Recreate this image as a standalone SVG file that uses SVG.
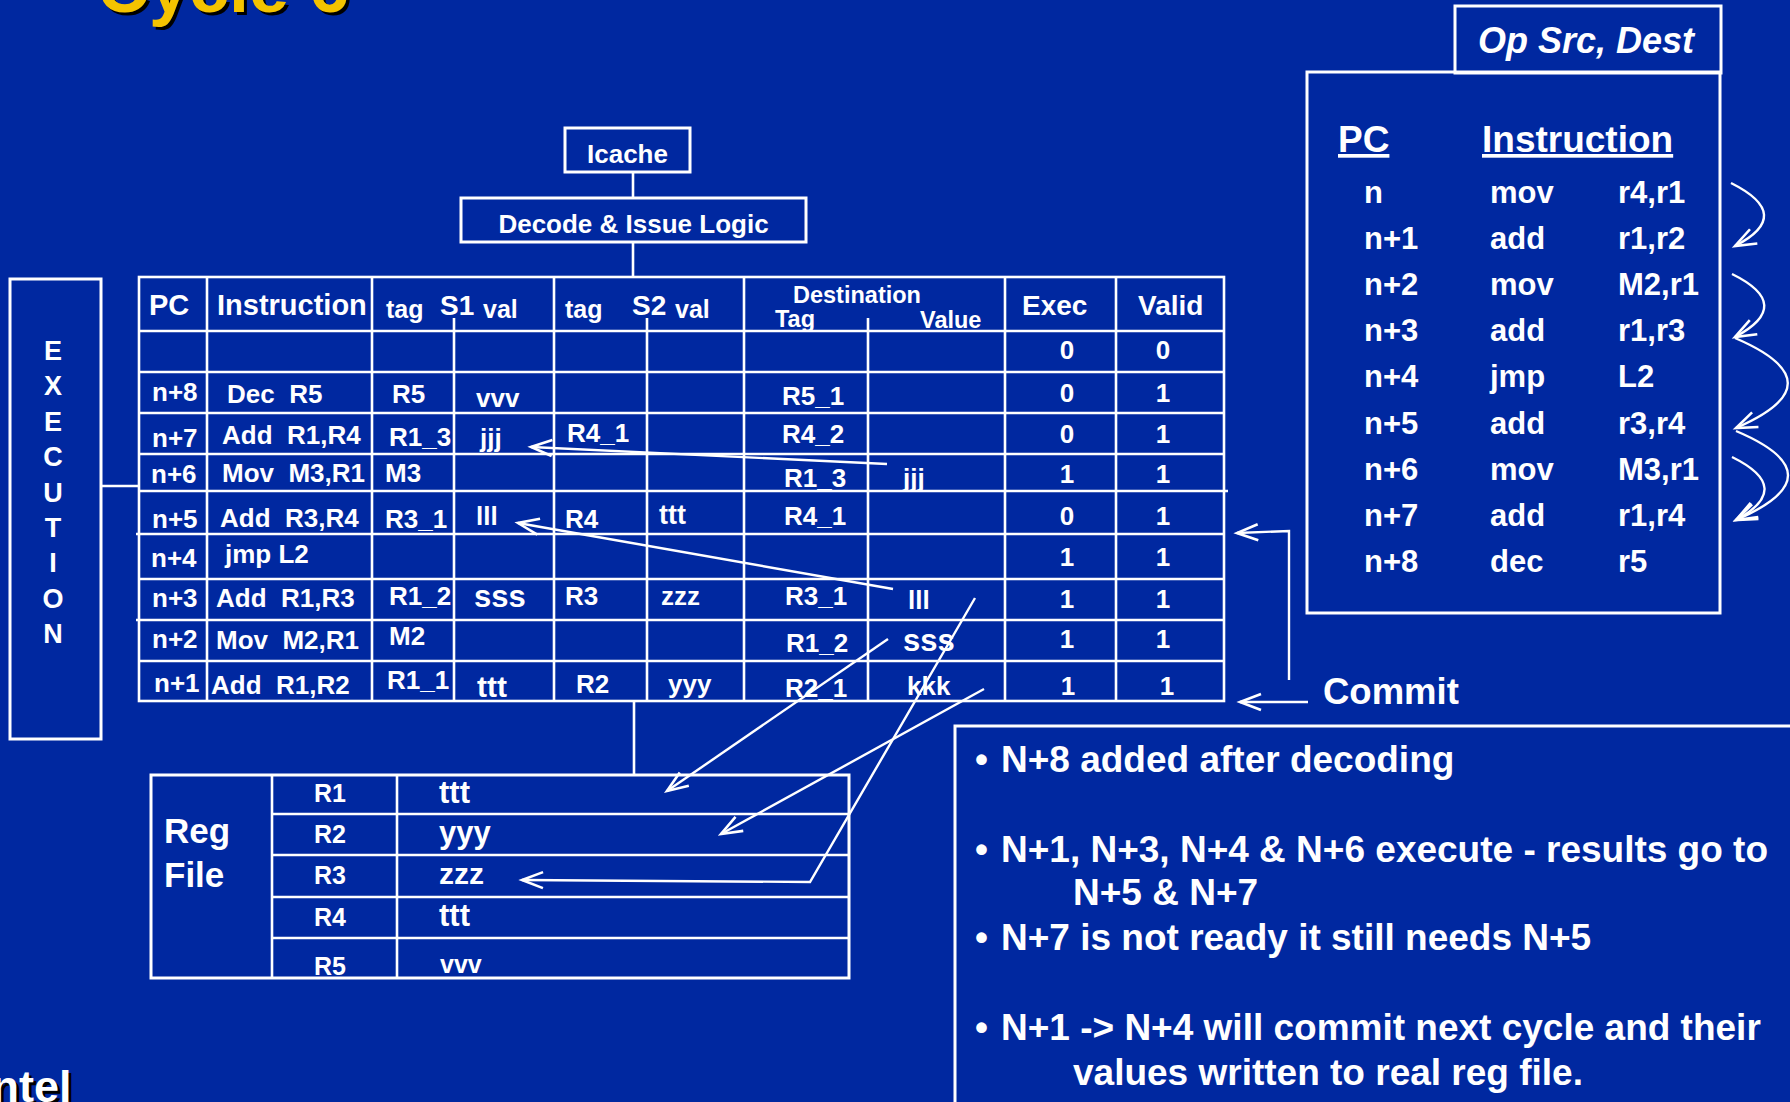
<svg xmlns="http://www.w3.org/2000/svg" width="1790" height="1102" viewBox="0 0 1790 1102">
<defs>
<style>
text{font-family:"Liberation Sans",Arial,Helvetica,sans-serif;font-weight:bold;fill:#fff;white-space:pre}
.ln{stroke:#fff;stroke-width:2.6;fill:none}
.bx{stroke:#fff;stroke-width:3;fill:none}
.ar{stroke:#fff;stroke-width:2.4;fill:none;marker-end:url(#ah)}
.r{font-size:26px}
.h{font-size:28px}
.m{text-anchor:middle}
.ex{font-size:27px;text-anchor:middle}
.ins{font-size:31px}
.nt{font-size:37px}
</style>
<marker id="ah" markerUnits="userSpaceOnUse" markerWidth="30" markerHeight="20" refX="0" refY="0" orient="auto" overflow="visible">
<path d="M-21,-8 L0,0 L-21,8" fill="none" stroke="#fff" stroke-width="2.6"/>
</marker>
</defs>
<rect x="0" y="0" width="1790" height="1102" fill="#0028A0"/>

<g id="title">
<text x="100" y="15" font-size="72" style="fill:#000">Cycle 6</text>
<text x="97" y="12" font-size="72" style="fill:#F4C300">Cycle 6</text>
</g>

<g id="logo">
<text x="-18" y="1105" font-size="45" style="fill:#000">intel</text>
<text x="-21" y="1102" font-size="45">intel</text>
</g>

<g id="icache">
<rect class="bx" x="565" y="128" width="125" height="44"/>
<text x="627.5" y="163" font-size="26" class="m">Icache</text>
</g>

<g id="decode">
<rect class="bx" x="461" y="198" width="345" height="44"/>
<text x="633.5" y="233" font-size="26" class="m">Decode &amp; Issue Logic</text>
</g>

<g id="execution">
<rect class="bx" x="10" y="279" width="91" height="460"/>
<text x="53" y="360" class="ex">E</text>
<text x="53" y="395" class="ex">X</text>
<text x="53" y="431" class="ex">E</text>
<text x="53" y="466" class="ex">C</text>
<text x="53" y="502" class="ex">U</text>
<text x="53" y="537" class="ex">T</text>
<text x="53" y="572" class="ex">I</text>
<text x="53" y="608" class="ex">O</text>
<text x="53" y="643" class="ex">N</text>
</g>

<g id="rob-table">
<rect class="ln" x="139" y="277" width="1085" height="424"/>
<g class="ln">
<line x1="207" y1="277" x2="207" y2="701"/>
<line x1="372" y1="277" x2="372" y2="701"/>
<line x1="554" y1="277" x2="554" y2="701"/>
<line x1="744" y1="277" x2="744" y2="701"/>
<line x1="1005" y1="277" x2="1005" y2="701"/>
<line x1="1116" y1="277" x2="1116" y2="701"/>
<line x1="454" y1="318" x2="454" y2="701"/>
<line x1="647" y1="318" x2="647" y2="701"/>
<line x1="868" y1="318" x2="868" y2="701"/>
<line x1="139" y1="331" x2="1224" y2="331"/>
<line x1="139" y1="372" x2="1224" y2="372"/>
<line x1="139" y1="413" x2="1224" y2="413"/>
<line x1="139" y1="454" x2="1224" y2="454"/>
<line x1="139" y1="491" x2="1228" y2="491"/>
<line x1="136" y1="534" x2="1224" y2="534"/>
<line x1="139" y1="579" x2="1224" y2="579"/>
<line x1="136" y1="620" x2="1224" y2="620"/>
<line x1="139" y1="661" x2="1224" y2="661"/>
</g>
<text x="149" y="315" font-size="29">PC</text>
<text x="217" y="315" font-size="29">Instruction</text>
<text x="386" y="318" font-size="25">tag</text>
<text x="440" y="315" font-size="28">S1</text>
<text x="483" y="318" font-size="25">val</text>
<text x="565" y="318" font-size="25">tag</text>
<text x="632" y="315" font-size="28">S2</text>
<text x="675" y="318" font-size="25">val</text>
<text x="793" y="303" font-size="23.5">Destination</text>
<text x="775" y="327" font-size="23.5">Tag</text>
<text x="920" y="328" font-size="23.5">Value</text>
<text x="1022" y="315" class="h">Exec</text>
<text x="1138" y="315" class="h">Valid</text>

<text x="1067" y="359" class="r m">0</text>
<text x="1163" y="359" class="r m">0</text>

<text x="152" y="401" class="r">n+8</text>
<text x="227" y="403" class="r">Dec  R5</text>
<text x="392" y="403" class="r">R5</text>
<text x="476" y="407" class="r">vvv</text>
<text x="782" y="405" class="r">R5_1</text>
<text x="1067" y="402" class="r m">0</text>
<text x="1163" y="402" class="r m">1</text>

<text x="152" y="447" class="r">n+7</text>
<text x="222" y="444" class="r">Add  R1,R4</text>
<text x="389" y="446" class="r">R1_3</text>
<text x="480" y="447" class="r">jjj</text>
<text x="567" y="442" class="r">R4_1</text>
<text x="782" y="443" class="r">R4_2</text>
<text x="1067" y="443" class="r m">0</text>
<text x="1163" y="443" class="r m">1</text>

<text x="151" y="483" class="r">n+6</text>
<text x="222" y="482" class="r">Mov  M3,R1</text>
<text x="385" y="482" class="r">M3</text>
<text x="784" y="487" class="r">R1_3</text>
<text x="903" y="487" class="r">jjj</text>
<text x="1067" y="483" class="r m">1</text>
<text x="1163" y="483" class="r m">1</text>

<text x="152" y="528" class="r">n+5</text>
<text x="220" y="527" class="r">Add  R3,R4</text>
<text x="385" y="528" class="r">R3_1</text>
<text x="476" y="525" class="r">lll</text>
<text x="565" y="528" class="r">R4</text>
<text x="659" y="524" font-size="27">ttt</text>
<text x="784" y="525" class="r">R4_1</text>
<text x="1067" y="525" class="r m">0</text>
<text x="1163" y="525" class="r m">1</text>

<text x="151" y="567" class="r">n+4</text>
<text x="225" y="563" class="r">jmp L2</text>
<text x="1067" y="566" class="r m">1</text>
<text x="1163" y="566" class="r m">1</text>

<text x="152" y="607" class="r">n+3</text>
<text x="216" y="607" class="r">Add  R1,R3</text>
<text x="389" y="605" class="r">R1_2</text>
<text x="474" y="607" font-size="31">sss</text>
<text x="565" y="605" class="r">R3</text>
<text x="661" y="605" class="r">zzz</text>
<text x="785" y="605" class="r">R3_1</text>
<text x="908" y="609" class="r">lll</text>
<text x="1067" y="608" class="r m">1</text>
<text x="1163" y="608" class="r m">1</text>

<text x="152" y="648" class="r">n+2</text>
<text x="216" y="649" class="r">Mov  M2,R1</text>
<text x="389" y="645" class="r">M2</text>
<text x="786" y="652" class="r">R1_2</text>
<text x="903" y="651" font-size="31">sss</text>
<text x="1067" y="648" class="r m">1</text>
<text x="1163" y="648" class="r m">1</text>

<text x="154" y="692" class="r">n+1</text>
<text x="211" y="694" class="r">Add  R1,R2</text>
<text x="387" y="689" class="r">R1_1</text>
<text x="477" y="697" font-size="30">ttt</text>
<text x="576" y="693" class="r">R2</text>
<text x="668" y="693" class="r">yyy</text>
<text x="785" y="697" class="r">R2_1</text>
<text x="907" y="695" class="r">kkk</text>
<text x="1068" y="695" class="r m">1</text>
<text x="1167" y="695" class="r m">1</text>
</g>

<g id="regfile">
<rect class="bx" x="151" y="775" width="698" height="203"/>
<g class="ln">
<line x1="272" y1="775" x2="272" y2="978"/>
<line x1="397" y1="775" x2="397" y2="978"/>
<line x1="272" y1="814" x2="849" y2="814"/>
<line x1="272" y1="855" x2="849" y2="855"/>
<line x1="272" y1="897" x2="849" y2="897"/>
<line x1="272" y1="938" x2="849" y2="938"/>
</g>
<text x="164" y="843" font-size="35">Reg</text>
<text x="164" y="887" font-size="35">File</text>
<text x="314" y="802" font-size="25">R1</text>
<text x="314" y="843" font-size="25">R2</text>
<text x="314" y="884" font-size="25">R3</text>
<text x="314" y="926" font-size="25">R4</text>
<text x="314" y="975" font-size="25">R5</text>
<text x="439" y="803" font-size="31">ttt</text>
<text x="439" y="843" font-size="31">yyy</text>
<text x="439" y="884" font-size="30">zzz</text>
<text x="439" y="926" font-size="31">ttt</text>
<text x="440" y="973" font-size="25">vvv</text>
</g>

<g id="op-src-dest">
<rect class="bx" x="1455" y="6" width="266" height="67"/>
<text x="1478" y="53" font-size="36" font-style="italic">Op Src, Dest</text>
</g>

<g id="program">
<rect class="bx" x="1307" y="72" width="413" height="541"/>
<text x="1338" y="152" font-size="37" text-decoration="underline">PC</text>
<text x="1482" y="152" font-size="37" text-decoration="underline">Instruction</text>
<text x="1364" y="203" class="ins">n</text><text x="1490" y="203" class="ins">mov</text><text x="1618" y="203" class="ins">r4,r1</text>
<text x="1364" y="249" class="ins">n+1</text><text x="1490" y="249" class="ins">add</text><text x="1618" y="249" class="ins">r1,r2</text>
<text x="1364" y="295" class="ins">n+2</text><text x="1490" y="295" class="ins">mov</text><text x="1618" y="295" class="ins">M2,r1</text>
<text x="1364" y="341" class="ins">n+3</text><text x="1490" y="341" class="ins">add</text><text x="1618" y="341" class="ins">r1,r3</text>
<text x="1364" y="387" class="ins">n+4</text><text x="1490" y="387" class="ins">jmp</text><text x="1618" y="387" class="ins">L2</text>
<text x="1364" y="434" class="ins">n+5</text><text x="1490" y="434" class="ins">add</text><text x="1618" y="434" class="ins">r3,r4</text>
<text x="1364" y="480" class="ins">n+6</text><text x="1490" y="480" class="ins">mov</text><text x="1618" y="480" class="ins">M3,r1</text>
<text x="1364" y="526" class="ins">n+7</text><text x="1490" y="526" class="ins">add</text><text x="1618" y="526" class="ins">r1,r4</text>
<text x="1364" y="572" class="ins">n+8</text><text x="1490" y="572" class="ins">dec</text><text x="1618" y="572" class="ins">r5</text>
</g>

<g id="commit">
<text x="1323" y="704" font-size="36.5">Commit</text>
</g>

<g id="notes">
<rect class="bx" x="955" y="726" width="850" height="400"/>
<text x="975" y="772" class="nt">•<tspan x="1001">N+8 added after decoding</tspan></text>
<text x="975" y="862" class="nt">•<tspan x="1001">N+1, N+3, N+4 &amp; N+6 execute - results go to</tspan></text>
<text x="1073" y="905" class="nt">N+5 &amp; N+7</text>
<text x="975" y="950" class="nt">•<tspan x="1001">N+7 is not ready it still needs N+5</tspan></text>
<text x="975" y="1040" class="nt">•<tspan x="1001">N+1 -&gt; N+4 will commit next cycle and their</tspan></text>
<text x="1073" y="1085" class="nt">values written to real reg file.</text>
</g>

<g id="connectors">
<line class="ln" x1="633" y1="172" x2="633" y2="198"/>
<line class="ln" x1="633" y1="242" x2="633" y2="277"/>
<line class="ln" x1="634" y1="701" x2="634" y2="775"/>
<line class="ln" x1="101" y1="486" x2="139" y2="486"/>
<path class="ar" d="M887,464 L531,447"/>
<path class="ar" d="M893,589 L518,523"/>
<path class="ar" d="M888,639 L667,791"/>
<path class="ar" d="M984,689 L721,834"/>
<path class="ar" d="M975,598 L810,882 L522,880"/>
<path class="ar" d="M1289,680 L1289,531 L1237,533"/>
<path class="ar" d="M1308,702 L1240,702"/>
<path class="ar" d="M1731,183 Q1795,215 1735,246"/>
<path class="ar" d="M1732,274 Q1795,305 1735,337"/>
<path class="ar" d="M1735,338 Q1840,383 1736,428"/>
<path class="ar" d="M1736,431 Q1840,475 1736,520"/>
<path class="ar" d="M1732,457 Q1795,488 1736,520"/>
</g>
</svg>
